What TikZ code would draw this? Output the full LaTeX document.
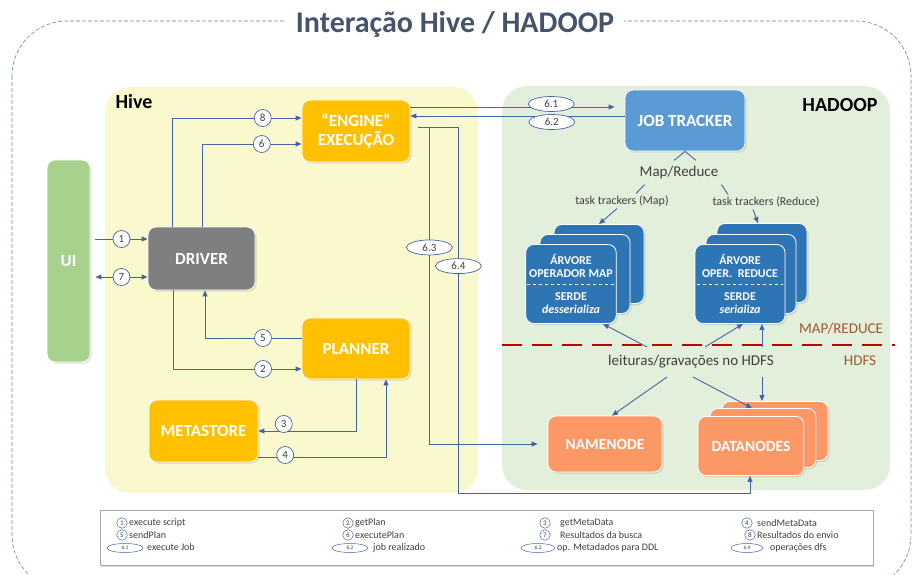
\documentclass[tikz,border=0pt]{standalone}
\usepackage{fontspec}
\setmainfont{Carlito}
\usetikzlibrary{arrows.meta,shapes.geometric,shadows}

\definecolor{flowc}{RGB}{68,100,165}
\definecolor{hivebg}{RGB}{250,248,205}
\definecolor{hadoopbg}{RGB}{226,239,218}
\definecolor{uigreen}{RGB}{169,209,142}
\definecolor{drivergray}{RGB}{127,127,127}
\definecolor{engineor}{RGB}{255,192,0}
\definecolor{jtblue}{RGB}{91,155,213}
\definecolor{mrblue}{RGB}{46,117,182}
\definecolor{hdfsor}{RGB}{252,152,102}
\definecolor{titlec}{RGB}{68,84,106}
\definecolor{outerc}{RGB}{110,130,170}
\definecolor{splitred}{RGB}{192,0,0}
\definecolor{layerc}{RGB}{160,90,45}
\definecolor{darktext}{RGB}{64,64,64}

\begin{document}
\begin{tikzpicture}[x=1pt, y=-1pt,
    >={Triangle[length=6pt,width=5pt]},
    box/.style={rectangle, rounded corners=8pt, draw=white, line width=0.8pt, text=white,
        font=\fontsize{17}{19}\selectfont\bfseries, align=center,
        drop shadow={opacity=0.25, shadow xshift=1.5pt, shadow yshift=-1.5pt}},
    stackbox/.style={box, fill=mrblue, minimum width=90pt, minimum height=79pt,
        font=\fontsize{12}{13.5}\selectfont\bfseries},
    hdfsbox/.style={box, fill=hdfsor, minimum width=106pt, minimum height=59pt,
        font=\fontsize{15.5}{17}\selectfont\bfseries},
    link/.style={draw=flowc, line width=0.9pt},
    flow/.style={link, ->},
    num/.style={circle, draw=flowc, fill=white, line width=0.7pt, minimum size=17pt, inner sep=0pt,
        text=darktext, font=\fontsize{11}{11}\selectfont},
    sub/.style={ellipse, draw=flowc, fill=white, line width=0.7pt, minimum width=46pt,
        minimum height=15pt, inner sep=0pt, text=darktext, font=\fontsize{11}{11}\selectfont},
    lnum/.style={circle, draw=flowc, line width=0.5pt, minimum size=10.5pt, inner sep=0pt,
        text=darktext, font=\fontsize{7}{7}\selectfont},
    lsub/.style={ellipse, draw=flowc, line width=0.5pt, minimum width=36pt, minimum height=9pt,
        inner sep=0pt, text=darktext, font=\fontsize{5.5}{5.5}\selectfont},
    ltext/.style={anchor=west, inner sep=0pt, text=darktext, font=\fontsize{10}{10}\selectfont},
]
    \useasboundingbox (0,0) rectangle (913,575);

    % Outer frame and title
    \draw[outerc, dash pattern=on 4pt off 2pt, line width=0.6pt, rounded corners=55pt] (12,21) rectangle (911,590);
    \node[fill=white, inner xsep=10pt, text=titlec, font=\fontsize{30}{32}\selectfont\bfseries] (title) at (455,24) {Interação Hive / HADOOP};

    % Hive and Hadoop areas
    \fill[hivebg, rounded corners=25pt] (105,87) rectangle (478,493);
    \fill[hadoopbg, rounded corners=25pt] (502,86) rectangle (890,490);
    \node[anchor=west, font=\fontsize{20}{22}\selectfont\bfseries] (hivelbl) at (112,102) {Hive};
    \node[anchor=east, font=\fontsize{20}{22}\selectfont\bfseries] (hadooplbl) at (881,105) {HADOOP};

    % MAP/REDUCE -- HDFS split
    \draw[splitred, line width=2.5pt, dash pattern=on 20pt off 10pt] (502,345) -- (895,345);
    \node[text=layerc, font=\fontsize{15}{15}\selectfont] (mrlayer) at (841,329) {MAP/REDUCE};
    \node[text=layerc, font=\fontsize{15}{15}\selectfont] (hdfslayer) at (860,361) {HDFS};

    % Hive components
    \node[box, fill=uigreen, minimum width=43pt, minimum height=202pt] (ui) at (68.5,261) {UI};
    \node[box, fill=drivergray, minimum width=107pt, minimum height=63pt] (driver) at (201.5,258.5) {DRIVER};
    \node[box, fill=engineor, minimum width=108pt, minimum height=62pt] (engine) at (356,131) {“ENGINE”\\EXECUÇÃO};
    \node[box, fill=engineor, minimum width=108pt, minimum height=61pt] (planner) at (356,348.5) {PLANNER};
    \node[box, fill=engineor, minimum width=109pt, minimum height=62pt] (metastore) at (203.5,431) {METASTORE};

    % Hadoop components
    \node[box, fill=jtblue, minimum width=120pt, minimum height=61pt] (jt) at (685,120.5) {JOB TRACKER};
    \node[stackbox] (mapback) at (599,264) {};
    \node[stackbox] (mapmid) at (585,274) {};
    \node[stackbox] (mapfront) at (571,284) {ÁRVORE\\OPERADOR MAP\\[9pt]SERDE\\\textit{desserializa}};
    \draw[white, dashed, line width=0.5pt, shorten >=2pt, shorten <=2pt] (mapfront.west) -- (mapfront.east);
    \node[stackbox] (redback) at (762,263) {};
    \node[stackbox] (redmid) at (751,274) {};
    \node[stackbox] (redfront) at (740,284) {ÁRVORE\\OPER.~~REDUCE\\[9pt]SERDE\\\textit{serializa}};
    \draw[white, dashed, line width=0.5pt, shorten >=2pt, shorten <=2pt] (redfront.west) -- (redfront.east);
    \node[hdfsbox, minimum width=114pt, minimum height=56pt] (namenode) at (605,444) {NAMENODE};
    \node[hdfsbox] (databack) at (775,431) {};
    \node[hdfsbox] (datamid) at (763,438) {};
    \node[hdfsbox] (datafront) at (751,446) {DATANODES};

    % Texts between the Hadoop boxes
    \node[text=darktext, font=\fontsize{15}{15}\selectfont, inner sep=1pt] (maprd) at (679,173) {Map/Reduce};
    \node[text=darktext, font=\fontsize{12}{12}\selectfont, inner sep=2pt] (ttmap) at (622,201) {task trackers (Map)};
    \node[text=darktext, font=\fontsize{12}{12}\selectfont, inner sep=2pt] (ttred) at (766,202) {task trackers (Reduce)};
    \node[text=darktext, font=\fontsize{15}{15}\selectfont, inner sep=1pt] (rw) at (691,362) {leituras/gravações no HDFS};

    % UI <-> driver
    \draw[flow] ([xshift=5pt,yshift=19.5pt]ui.east |- driver.west) -- node[num] {1} ([yshift=19.5pt]driver.west);
    \draw[flow, <->] ([xshift=5pt,yshift=-18.5pt]ui.east |- driver.west) -- node[num] {7} ([yshift=-18.5pt]driver.west);

    % driver, engine, planner, metastore
    \draw[flow] ([xshift=-29.5pt]driver.north) |- node[num, pos=0.85] {8} ([yshift=13pt]engine.west);
    \draw[flow] ([xshift=0.5pt]driver.north) |- node[num, pos=0.8] {6} ([yshift=-13pt]engine.west);
    \draw[flow] ([yshift=10.5pt]planner.west) -| node[num, pos=0.2] {5} ([xshift=3.5pt]driver.south);
    \draw[flow] ([xshift=-28.5pt]driver.south) |- node[num, pos=0.85] {2} ([yshift=-20.5pt]planner.west);
    \draw[flow] (planner.south) |- node[num, pos=0.87, yshift=7pt] {3} (metastore.east);
    \draw[flow] ([yshift=-26pt]metastore.east) -| node[num, pos=0.105, yshift=2pt] {4} ([xshift=30pt]planner.south);

    % engine <-> hadoop
    \draw[flow] ([yshift=24pt]engine.east) -- node[sub, pos=0.69, yshift=3pt] {6.1} ([xshift=-10pt,yshift=13.5pt]jt.west);
    \draw[flow] ([yshift=4.5pt]jt.west) -- node[sub, pos=0.34, yshift=-6pt] {6.2} ([yshift=15pt]engine.east);
    \draw[flow] ([xshift=8pt,yshift=4pt]engine.east) -- ++(11,0) |- node[sub, pos=0.19] {6.3} ([xshift=-10pt]namenode.west);
    \draw[flow] ([xshift=8pt,yshift=4pt]engine.east) -- ++(40,0) -- ++(0,366) node[sub, pos=0.38] {6.4} -| ([xshift=-1pt]datafront.south);

    % job tracker and task trackers
    \draw[link] ([xshift=-11pt,yshift=-9pt]jt.south) -- (jt.south) -- ([xshift=11pt,yshift=-9pt]jt.south);
    \draw[link] ([xshift=6pt,yshift=-4pt]maprd.south west) -- ([xshift=14pt]ttmap.north);
    \draw[flow] ([xshift=-5pt]ttmap.south) -- (mapback.north);
    \draw[link] ([xshift=2pt,yshift=-4pt]maprd.south east) -- ([xshift=-38pt]ttred.north);
    \draw[flow] ([xshift=-13pt]ttred.south) -- ([xshift=-4pt]redback.north);

    % HDFS reads and writes
    \draw[flow] ([xshift=-44pt,yshift=15pt]rw.center) -- ([xshift=32pt]mapfront.south);
    \draw[flow] ([xshift=14pt,yshift=15pt]rw.center) -- ([xshift=3pt]redfront.south);
    \draw[flow] ([xshift=71pt,yshift=15pt]rw.center) -- ([xshift=22pt]redfront.south);
    \draw[flow] ([xshift=-24pt,yshift=-15pt]rw.center) -- ([xshift=7pt]namenode.north);
    \draw[flow] ([xshift=2pt,yshift=-15pt]rw.center) -- ([xshift=-11pt]datamid.north);
    \draw[flow] ([xshift=71pt,yshift=-15pt]rw.center) -- ([xshift=-13pt]databack.north);

    % Legend
    \node[draw=gray!70, fill=white, minimum width=773pt, minimum height=55pt,
        drop shadow={opacity=0.3, shadow xshift=1pt, shadow yshift=-2pt}] (legend) at (486.5,537.5) {};
    \node[lnum] (k1) at (122,523) {1};   \node[ltext] (k1t) at (129,523) {execute script};
    \node[lnum] (k5) at (122,535) {5};   \node[ltext] (k5t) at (129,535) {sendPlan};
    \node[lsub] (k61) at (125,548) {6.1}; \node[ltext] (k61t) at (147,547.5) {execute Job};
    \node[lnum] (k2) at (348,523) {2};   \node[ltext] (k2t) at (355,523) {getPlan};
    \node[lnum] (k6) at (348,535) {6};   \node[ltext] (k6t) at (355,535) {executePlan};
    \node[lsub] (k62) at (350,548) {6.2}; \node[ltext] (k62t) at (373,547.5) {job realizado};
    \node[lnum] (k3) at (545,523) {3};   \node[ltext] (k3t) at (560,523) {getMetaData};
    \node[lnum] (k7) at (545,535) {7};   \node[ltext] (k7t) at (560,535) {Resultados da busca};
    \node[lsub, minimum width=34pt] (k63) at (538,548) {6.3}; \node[ltext] (k63t) at (557,547.5) {op. Metadados para DDL};
    \node[lnum] (k4) at (747,523) {4};   \node[ltext] (k4t) at (757,523) {sendMetaData};
    \node[lnum] (k8) at (750,535) {8};   \node[ltext] (k8t) at (757,535) {Resultados do envio};
    \node[lsub, minimum width=32pt] (k64) at (747,548) {6.4}; \node[ltext] (k64t) at (770,547.5) {operações dfs};
\end{tikzpicture}
\end{document}
